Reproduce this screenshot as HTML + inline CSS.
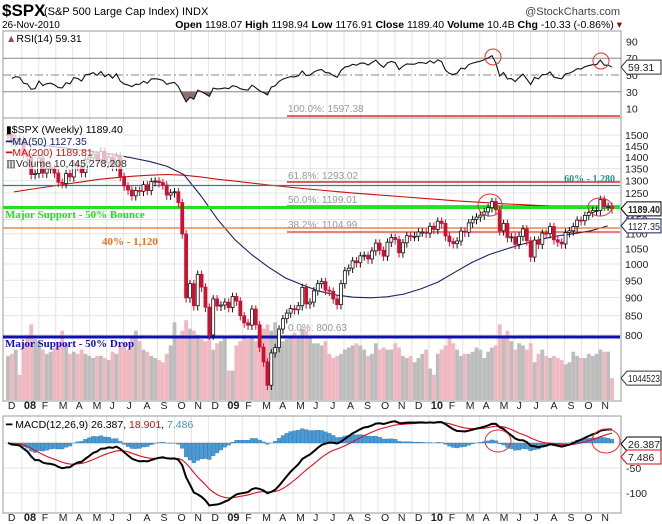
<!DOCTYPE html>
<html><head><meta charset="utf-8"><style>
body{margin:0;background:#fff;}
svg{display:block;font-family:"Liberation Sans",sans-serif;}
</style></head><body>
<svg id="c" width="662" height="524" viewBox="0 0 662 524" xmlns="http://www.w3.org/2000/svg">
<rect x="0" y="0" width="662" height="524" fill="#fff"/>
<text x="2" y="16" font-size="17" font-weight="bold">$SPX</text>
<text x="44" y="15" font-size="11">(S&amp;P 500 Large Cap Index) INDX</text>
<text x="620" y="15" font-size="11" text-anchor="end" fill="#444">@StockCharts.com</text>
<text x="2" y="28" font-size="10">26-Nov-2010</text>
<text x="622" y="28" font-size="10.5" text-anchor="end"><tspan font-weight="bold">Open</tspan> 1198.07 <tspan font-weight="bold">High</tspan> 1198.94 <tspan font-weight="bold">Low</tspan> 1176.91 <tspan font-weight="bold">Close</tspan> 1189.40 <tspan font-weight="bold">Volume</tspan> 10.4B <tspan font-weight="bold">Chg</tspan> -10.33 (-0.86%) <tspan fill="#900">▾</tspan></text>
<g id="grid"></g>
<rect x="3" y="31" width="618" height="87" fill="none" stroke="#999"/>
<rect x="3" y="118" width="618" height="283" fill="none" stroke="#999"/>
<rect x="3" y="416" width="618" height="97" fill="none" stroke="#999"/>
<g id="vol"></g>
<g id="rsi"></g>
<g id="ma"></g>
<g id="refs">
<line x1="287" y1="116" x2="620" y2="116" stroke="#d00" stroke-width="1.3"/>
<text x="288" y="112" font-size="10" fill="#999">100.0%: 1597.38</text>
<line x1="287" y1="182" x2="620" y2="182" stroke="#c00" stroke-width="1.2"/>
<text x="288" y="179" font-size="10" fill="#999">61.8%: 1293.02</text>
<line x1="3" y1="185.5" x2="620" y2="185.5" stroke="#1a8a8a" stroke-width="1.2"/>
<text x="615" y="182" font-size="10" font-weight="bold" fill="#2a9090" text-anchor="end" font-family="Liberation Serif, serif">60% - 1,280</text>
<line x1="287" y1="206" x2="620" y2="206" stroke="#c00" stroke-width="1"/>
<text x="288" y="203" font-size="10" fill="#999">50.0%: 1199.01</text>
<line x1="3" y1="207.5" x2="620" y2="207.5" stroke="#22e022" stroke-width="3"/>
<text x="5" y="218" font-size="11" font-weight="bold" fill="#22dd22" font-family="Liberation Serif, serif">Major Support - 50% Bounce</text>
<line x1="3" y1="228" x2="620" y2="228" stroke="#f07020" stroke-width="1.3"/>
<line x1="287" y1="232" x2="620" y2="232" stroke="#c00" stroke-width="1"/>
<text x="288" y="228" font-size="10" fill="#999">38.2%: 1104.99</text>
<text x="102" y="245" font-size="11" font-weight="bold" fill="#f07020" font-family="Liberation Serif, serif">40% - 1,120</text>
<text x="288" y="331" font-size="10" fill="#999">0.0%: 800.63</text>
<line x1="3" y1="337" x2="620" y2="337" stroke="#1010b0" stroke-width="3"/>
<text x="5" y="347" font-size="11" font-weight="bold" fill="#1010c0" font-family="Liberation Serif, serif">Major Support - 50% Drop</text>
</g>
<g id="candles"></g>
<g id="macd"></g>
<g id="circles" fill="none" stroke="#d33" stroke-width="1">
<circle cx="493" cy="57" r="8"/>
<circle cx="601" cy="61" r="8"/>
<ellipse cx="490" cy="205" rx="12" ry="11"/>
<ellipse cx="600" cy="207" rx="12" ry="9"/>
<ellipse cx="498" cy="441" rx="13" ry="11"/>
<ellipse cx="606" cy="441" rx="14" ry="12"/>
</g>
<g id="legend" font-size="10.5">
<text x="6" y="42"><tspan fill="#855">▲</tspan>RSI(14) 59.31</text>
<rect x="4" y="123" width="120" height="46" fill="#fff" opacity="0.7"/>
<text x="6" y="133">▮$SPX (Weekly) 1189.40</text>
<text x="6" y="145" fill="#112266">━MA(50) 1127.35</text>
<text x="6" y="156" fill="#cc1111">━MA(200) 1189.81</text>
<text x="6" y="167" fill="#333">▥Volume 10,445,278,208</text>
<text x="6" y="428">━ MACD(12,26,9) 26.387, <tspan fill="#cc1111">18.901</tspan>, <tspan fill="#4a90c0">7.486</tspan></text>
</g>
<g id="axes" font-size="10.5" fill="#222"></g>
</svg>
<script>
const closes=[1504,1467,1484,1478,
1411,1401,1325,1330, 1395,1331,1349,1353, 1331,1293,1288,1329,1315, 1370,1360,1333,1390,1397, 1413,1388,1425,1375,1400, 1360,1404,1317,1278, 1262,1239,1260,1257,1283, 1260,1296,1298,1292,1282, 1242,1251,1255,1213,1099, 899,940,877,968, 930,873,800,896, 876,879,887,872,903,
890,850,831,825, 868,826,770,735, 683,756,769,815, 842,857,869,866,877, 929,882,887,919, 940,946,921,918, 896,880,940,979,987, 1010,1004,1026,1028, 1016,1042,1068,1044, 1025,1071,1087,1080,1036, 1069,1093,1091,1091, 1106,1106,1102,1126,1115,
1144,1136,1092,1073, 1066,1075,1109,1105, 1138,1150,1159,1166, 1178,1194,1217,1186, 1110,1136,1087,1089, 1064,1091,1117,1076,1022, 1078,1064,1102,1101, 1125,1079,1071,1065, 1104,1110,1125,1148,1146, 1165,1176,1183,1183, 1225,1199,1199,1189.4];
const volumes=[21,22,24,12,
27,31,36,29, 28,24,22,23, 25,27,33,27,22, 23,22,24,22,21, 20,21,21,20,19, 23,22,26,27, 24,30,33,28,24, 23,21,20,19,18, 22,26,37,30,33, 38,34,33,31, 29,28,35,24, 27,28,30,14,14,
26,28,31,29, 30,28,31,34, 36,33,37,30, 28,29,30,32,30, 34,33,30,27, 27,26,28,22, 20,21,22,24,25, 26,27,26,24, 21,22,27,24, 25,24,24,27,25, 21,20,21,18, 20,22,24,15,12,
22,24,26,30, 27,24,21,22, 22,23,25,24, 20,23,25,26, 36,30,33,28, 24,27,26,24,27, 18,22,24,21, 20,21,20,19, 17,18,23,21,20, 20,22,21,22, 24,23,23,10.4];
const ma50=[1460,1455,1450,1440,1430,1420,1410,1395,1380,1360,1325,1240,1150,1080,1030,990,957,936,918,907,901,899,902,910,925,945,975,1005,1030,1048,1065,1080,1092,1100,1110,1127.35];
const ma200=[1255,1265,1275,1285,1295,1305,1312,1318,1322,1325,1322,1315,1305,1298,1290,1282,1275,1268,1262,1256,1250,1245,1240,1235,1230,1225,1220,1216,1212,1208,1205,1202,1199,1196,1193,1189.81];
const monthLabels=['D','08','F','M','A','M','J','J','A','S','O','N','D','09','F','M','A','M','J','J','A','S','O','N','D','10','F','M','A','M','J','J','A','S','O','N'];
const priceTicks=[1500,1450,1400,1350,1300,1250,1150,1100,1050,1000,950,900,850,800];
const rsiTicks=[90,70,50,30,10];
const macdTicks=[-50,-100];

const NS='http://www.w3.org/2000/svg';
function mk(tag,attrs,parent){const e=document.createElementNS(NS,tag);for(const k in attrs)e.setAttribute(k,attrs[k]);parent.appendChild(e);return e;}
const n=closes.length;
const xW=i=>8+i*(604/(n-1));
const xM=m=>8+(m*4.348+1.6)*3.9;
const xMs=m=>8+(m*4.348-0.8)*3.9;
const yP=v=>264-318*Math.log(v/1000);
const yR=v=>75-(v-50)*0.84;
const yMc=v=>443-v*0.5;
const yV=v=>400-v*2.1;
const G=id=>document.getElementById(id);

const grid=G('grid');
monthLabels.forEach((l,m)=>{if(m===0)return;const x=xMs(m);
 [[31,118],[118,401],[416,513]].forEach(p=>{const ln=mk('line',{x1:x,x2:x,y1:p[0],y2:p[1],stroke:'#e4e4e4'},grid);
 
 });});
priceTicks.forEach(t=>{const ln=mk('line',{x1:3,x2:621,y1:yP(t),y2:yP(t),stroke:'#e4e4e4'},grid);
 
 });
[0,-50,-100].forEach(t=>{const ln=mk('line',{x1:3,x2:621,y1:yMc(t),y2:yMc(t),stroke:'#e4e4e4'},grid);
 
 });

const vol=G('vol');
volumes.forEach((v,i)=>{const up=i===0||closes[i]>=closes[i-1];
 const r=mk('rect',{x:xW(i)-1.9,y:yV(v),width:3.8,height:400-yV(v),fill:up?'#bdbdbd':'#f0b8c0'},vol);
 
 });

const rsiG=G('rsi');
[[70,'solid'],[50,'dash'],[30,'solid']].forEach(([v,s])=>{const ln=mk('line',{x1:3,x2:621,y1:yR(v),y2:yR(v),stroke:'#888','stroke-dasharray':s==='dash'?'8,3,2,3':'none'},rsiG);
 
 });
let ag=16,al=16;const rsi=[];
for(let i=1;i<n;i++){const d=closes[i]-closes[i-1];const g=Math.max(d,0),l=Math.max(-d,0);
 ag=(ag*13+g)/14;al=(al*13+l)/14;
 rsi.push([i,al===0?100:100-100/(1+ag/al)]);}
const cp=mk('clipPath',{id:'below30'},rsiG);mk('rect',{x:3,y:yR(30),width:618,height:118-yR(30)},cp);
let fp='M'+xW(rsi[0][0])+','+yR(30);rsi.forEach(([i,v])=>fp+=' L'+xW(i)+','+yR(v));fp+=' L'+xW(n-1)+','+yR(30)+'Z';
const fa=mk('path',{d:fp,fill:'#8b716a','clip-path':'url(#below30)'},rsiG);


const rl=mk('polyline',{points:rsi.map(([i,v])=>xW(i)+','+yR(v)).join(' '),fill:'none',stroke:'#111','stroke-width':1.1},rsiG);



const maG=G('ma');
const m2=mk('polyline',{points:ma200.map((v,m)=>xM(m)+','+yP(v)).join(' '),fill:'none',stroke:'#cc1111','stroke-width':1.1},maG);


const m1=mk('polyline',{points:ma50.map((v,m)=>xM(m)+','+yP(v)).join(' '),fill:'none',stroke:'#1a2066','stroke-width':1.1},maG);



const cG=G('candles');
closes.forEach((c,i)=>{const o=i===0?c:closes[i-1];const up=c>=o;const x=xW(i);
 const hi=Math.max(o,c)*1.012,lo=Math.min(o,c)*0.985;const col=up?'#111':'#cc1133';
 const w=mk('line',{x1:x,x2:x,y1:yP(hi),y2:yP(lo),stroke:col},cG);
 
 
 const yt=yP(Math.max(o,c)),yb=yP(Math.min(o,c));
 const b=mk('rect',{x:x-1.5,y:yt,width:3,height:Math.max(1,yb-yt),fill:up?'#fff':'#cc1133',stroke:col,'stroke-width':0.8},cG);
 
 });

const mG=G('macd');
function ema(arr,p){const k=2/(p+1);const out=[];let e=arr[0];arr.forEach((v,i)=>{e=i===0?v:v*k+e*(1-k);out.push(e);});return out;}
const e12=ema(closes,12),e26=ema(closes,26);const macd=e12.map((v,i)=>v-e26[i]);const sig=ema(macd,9);
macd.forEach((v,i)=>{const h=v-sig[i];const y0=yMc(0),y1=yMc(h);
 const r=mk('rect',{x:xW(i)-1.9,y:Math.min(y0,y1),width:3.8,height:Math.abs(y1-y0),fill:'#4a9ad4',stroke:'#2a6a9a','stroke-width':0.3},mG);
 
 });
const sl=mk('polyline',{points:sig.map((v,i)=>xW(i)+','+yMc(v)).join(' '),fill:'none',stroke:'#e01020','stroke-width':1.1},mG);


const ml=mk('polyline',{points:macd.map((v,i)=>xW(i)+','+yMc(v)).join(' '),fill:'none',stroke:'#000','stroke-width':2},mG);



const aG=G('axes');
function txt(x,y,s,name,extra){const t=mk('text',Object.assign({x:x,y:y},extra||{}),aG);t.textContent=s;
 
 return t;}
rsiTicks.forEach(t=>txt(626,yR(t)+4,String(t),'rsi-tick-label'));
priceTicks.forEach(t=>txt(625,yP(t)+4,String(t),'price-tick-label'));
macdTicks.forEach(t=>txt(626,yMc(t)+4,String(t),'macd-tick-label'));
[[409],[521]].forEach(([y])=>monthLabels.forEach((l,m)=>{const b=/\d/.test(l);txt(xMs(m)+(b?2:3),y,l,'x-tick-label',b?{'font-weight':'bold','font-size':'11'}:{});}));
function tag(y,s,stroke,bold,name){const p=mk('path',{d:`M621,${y} l6,-7 h34 v14 h-34 z`,fill:'#fff',stroke:stroke},aG);
 
 
 const ex={'font-weight':bold?'bold':'normal'};
 if(s.length>=7){ex.textLength=32;ex.lengthAdjust='spacingAndGlyphs';}
 txt(628,y+4,s,name,ex);}
tag(yR(59.31),'59.31','#333',false,'rsi-value-tag');
tag(yP(1189.4),'1189.40','#000',true,'price-value-tag');
tag(yP(1127.35),'1127.35','#1a2066',false,'ma50-value-tag');
tag(yV(10.4),'1044523','#333',false,'volume-value-tag');
tag(444,'26.387','#000',false,'macd-value-tag');
tag(457,'7.486','#cc1111',false,'hist-value-tag');
</script>
</body></html>
